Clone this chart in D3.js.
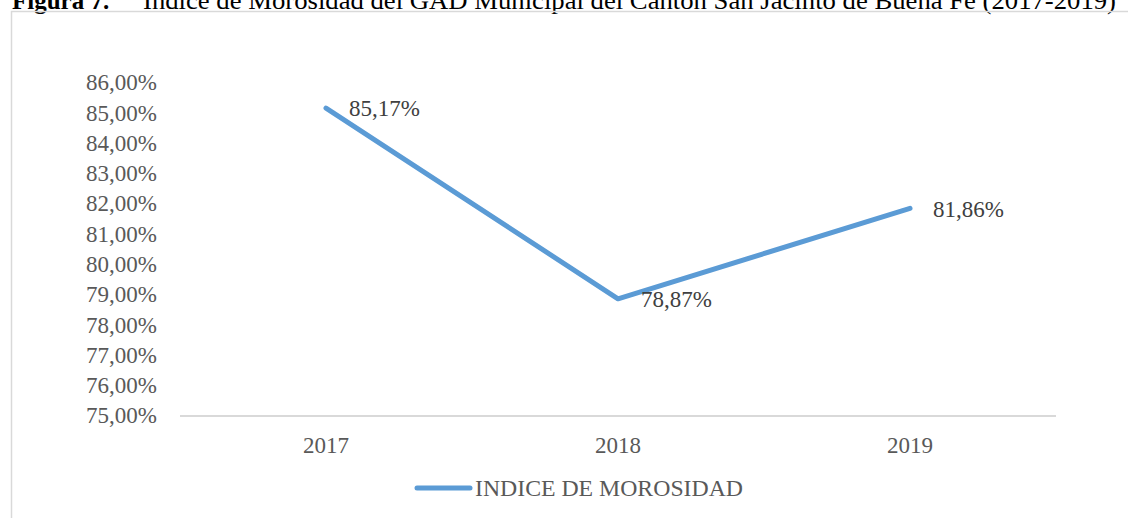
<!DOCTYPE html>
<html>
<head>
<meta charset="utf-8">
<script src="https://cdn.jsdelivr.net/npm/d3@7"></script>
<style>
  body { margin: 0; background: #fff; }
  svg { display: block; }
  text { font-family: "Liberation Serif", "Times New Roman", serif; fill: #595959; }
</style>
</head>
<body>
<svg id="chart" width="1128" height="518"></svg>
<script>
// data
var years = ["2017", "2018", "2019"];
var morosidad = [85.17, 78.87, 81.86];
var yTicks = [75, 76, 77, 78, 79, 80, 81, 82, 83, 84, 85, 86];
var seriesName = "INDICE DE MOROSIDAD";

var svg = d3.select("#chart");
var fmt = function(v) { return d3.format(".2f")(v).replace(".", ",") + "%"; };

// caption, cut off at the top of the page like the source
svg.append("text").attr("x", 12).attr("y", 9)
  .style("font-size", "25px").style("font-weight", "bold").style("fill", "#000")
  .text("Figura 7.");
svg.append("text").attr("x", 143).attr("y", 9)
  .attr("textLength", 973).attr("lengthAdjust", "spacingAndGlyphs")
  .style("font-size", "26px").style("fill", "#000")
  .text("Índice de Morosidad del GAD Municipal del Cantón San Jacinto de Buena Fe (2017-2019)");

// chart area border (runs off right and bottom)
svg.append("path")
  .attr("d", "M11.5,530V11.5H1140")
  .attr("fill", "none").attr("stroke", "#d9d9d9").attr("stroke-width", 1.5);

var x = d3.scalePoint().domain(years).range([180, 1056]).padding(0.5);
var y = d3.scaleLinear().domain([75, 86]).range([416, 83]);

// y axis labels
svg.append("g").selectAll("text").data(yTicks).join("text")
  .attr("x", 157).attr("y", function(d) { return y(d); })
  .attr("dy", "0.32em").attr("text-anchor", "end")
  .style("font-size", "23px")
  .text(fmt);

// category axis
svg.append("line").attr("x1", 180).attr("x2", 1056)
  .attr("y1", y(75)).attr("y2", y(75))
  .attr("stroke", "#d9d9d9").attr("stroke-width", 2);

svg.append("g").selectAll("text").data(years).join("text")
  .attr("x", function(d) { return x(d); }).attr("y", y(75) + 30)
  .attr("dy", "0.32em").attr("text-anchor", "middle")
  .style("font-size", "23px")
  .text(function(d) { return d; });

// the series line
var pts = years.map(function(d, i) { return [x(d), y(morosidad[i])]; });
svg.append("path")
  .attr("d", d3.line()(pts))
  .attr("fill", "none").attr("stroke", "#5b9bd5")
  .attr("stroke-width", 5).attr("stroke-linecap", "round").attr("stroke-linejoin", "round");

// data labels to the right of each point
svg.append("g").selectAll("text").data(pts).join("text")
  .attr("x", function(d) { return d[0] + 23; })
  .attr("y", function(d) { return d[1] + 1; })
  .attr("dy", "0.32em")
  .style("font-size", "23px").style("fill", "#404040")
  .text(function(d, i) { return fmt(morosidad[i]); });

// legend
svg.append("line").attr("x1", 417).attr("x2", 470).attr("y1", 488).attr("y2", 488)
  .attr("stroke", "#5b9bd5").attr("stroke-width", 5).attr("stroke-linecap", "round");
svg.append("text").attr("x", 475).attr("y", 488).attr("dy", "0.32em")
  .attr("textLength", 268).attr("lengthAdjust", "spacingAndGlyphs")
  .style("font-size", "24px")
  .text(seriesName);
</script>
</body>
</html>
